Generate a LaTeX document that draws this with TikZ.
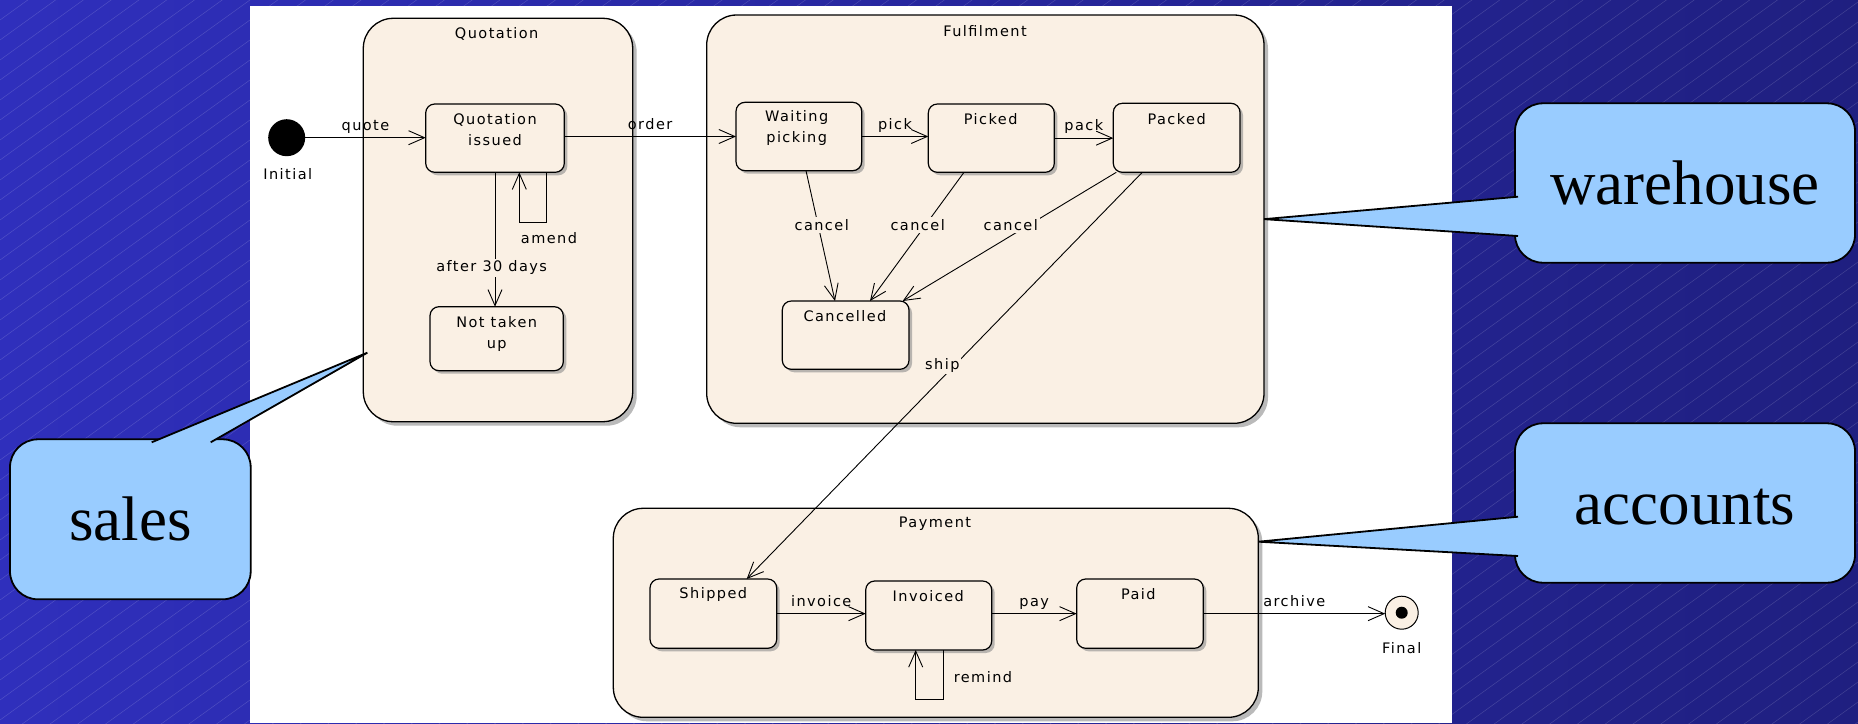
\documentclass[tikz,border=0pt]{standalone}
\usepackage{fontspec}
\setmainfont{Liberation Serif}
\newfontfamily\umlfont[LetterSpace=10]{DejaVu Sans}
\usetikzlibrary{arrows.meta,shadows,calc}

\definecolor{bgA}{RGB}{47,47,188}
\definecolor{bgB}{RGB}{31,31,128}
\definecolor{beige}{RGB}{250,240,228}
\definecolor{callblue}{RGB}{153,204,255}

\tikzset{
  umltext/.style={font=\umlfont\fontsize{14.5}{21}\selectfont, inner sep=1pt, align=center},
  lblabove/.style={umltext, anchor=base, yshift=7.5pt},
  lblfill/.style={umltext, fill=beige, inner sep=2pt},
  comp/.style={draw=black, line width=1.3pt, fill=beige, rounded corners=30pt, inner sep=0pt, outer sep=0pt,
    drop shadow={shadow xshift=4pt, shadow yshift=-4pt, fill=black!45, opacity=0.6}},
  st/.style={draw=black, line width=1.2pt, fill=beige, rounded corners=9pt, inner sep=0pt, outer sep=0pt,
    drop shadow={shadow xshift=3pt, shadow yshift=-3pt, fill=black!45, opacity=0.6}},
  tr/.style={draw=black, line width=0.9pt, -{Straight Barb[length=16pt, width=14pt, line width=0.9pt]}},
  callbox/.style={draw=black, line width=1.8pt, fill=callblue, rounded corners=28pt, inner sep=0pt, outer sep=0pt,
    font=\fontsize{63}{70}\selectfont, text height=43pt, text depth=0pt},
  calltip/.style={fill=callblue, draw=black, line width=1.8pt, line join=miter},
  bgline/.style={white, opacity=0.16, line width=0.5pt}
}

\begin{document}
\begin{tikzpicture}[x=1pt,y=-1pt]
\useasboundingbox (0,0) rectangle (1858,723);
% background
\shade[left color=bgA, right color=bgB] (0,0) rectangle (1858,723);
\begin{scope}
  \clip (0,0) rectangle (1858,723);
  \foreach \c in {0,20,...,2080} \draw[bgline] (0,\c) -- (1858,\c-1338);
\end{scope}
\fill[white] (250,6) rectangle (1452,723);

% composite states
\node[comp, minimum width=269.4pt, minimum height=403.4pt] (quot) at (498,220) {};
\node[comp, minimum width=557.3pt, minimum height=408.3pt] (fulf) at (985.35,219.15) {};
\node[comp, minimum width=645pt, minimum height=209pt] (pay) at (935.8,612.8) {};
\node[umltext] (quott) at (496.7,34.3) {Quotation};
\node[umltext] (fulft) at (985,31) {Fulfilment};
\node[umltext] (payt) at (935,523.3) {Payment};

% states
\node[st, minimum width=138.6pt, minimum height=68.3pt] (qi) at (495,138.15) {};
\node[umltext] (qit) at (495,129.5) {Quotation\\issued};
\node[st, minimum width=133.3pt, minimum height=64pt] (ntu) at (496.65,338.7) {};
\node[umltext] (ntut) at (496.7,333.5) {Not taken\\up};
\node[st, minimum width=125.7pt, minimum height=68.4pt] (wp) at (798.85,136.5) {};
\node[umltext] (wpt) at (796.7,128.2) {Waiting\\picking};
\node[st, minimum width=126pt, minimum height=68.3pt] (picked) at (991.3,138.15) {};
\node[umltext] (pickedt) at (990.7,118.7) {Picked};
\node[st, minimum width=126.7pt, minimum height=69pt] (packed) at (1176.65,137.8) {};
\node[umltext] (packedt) at (1176.7,118.7) {Packed};
\node[st, minimum width=126.7pt, minimum height=68.3pt] (cancelled) at (845.65,335.15) {};
\node[umltext] (cancelledt) at (845,315.7) {Cancelled};
\node[st, minimum width=126.7pt, minimum height=69.3pt] (shipped) at (713.35,613.65) {};
\node[umltext] (shippedt) at (713.3,594.3) {Shipped};
\node[st, minimum width=126pt, minimum height=69pt] (invoiced) at (928.7,615.5) {};
\node[umltext] (invoicedt) at (928.3,595.7) {Invoiced};
\node[st, minimum width=126.6pt, minimum height=69.3pt] (paid) at (1140,613.65) {};
\node[umltext] (paidt) at (1138.3,594.3) {Paid};

% pseudo states
\node[circle, fill=black, minimum size=37pt, inner sep=0pt, outer sep=0pt] (init) at (286.7,137.7) {};
\node[umltext] (initt) at (287.7,174) {Initial};
\node[circle, draw=black, line width=1pt, fill=beige, minimum size=33pt, inner sep=0pt, outer sep=0pt] (final) at (1401.7,612.7) {};
\node[circle, fill=black, minimum size=12pt, inner sep=0pt] (finaldot) at (final.center) {};
\node[umltext] (finalt) at (1401.7,648.3) {Final};

% transitions
\draw[tr] (init.east) -- node[lblabove] (lquote) {quote} (qi.west |- init.east);
\draw[tr] (qi.east |- wp.west) -- node[lblabove] (lorder) {order} (wp.west);
\draw[tr] (wp.east) -- node[lblabove] (lpick) {pick} (picked.west |- wp.east);
\draw[tr] (picked.east) -- node[lblabove] (lpack) {pack} (packed.west |- picked.east);
\draw[tr] (qi.south) -- node[lblfill, pos=0.71, xshift=-3.3pt] (lafter) {after 30 days} (qi.south |- ntu.north);
\draw[tr] ([xshift=51.7pt]qi.south) -- ++(0,50)
   node[umltext, anchor=north, xshift=2.3pt, yshift=-9pt] (lamend) {amend}
   -- ++(-27.4,0) -- ([xshift=24.3pt]qi.south);
\draw[tr] ([xshift=7.15pt]wp.south) -- node[lblfill, pos=0.417, xshift=3.6pt] (lc1) {cancel} ([xshift=-10.65pt]cancelled.north);
\draw[tr] ([xshift=-27.3pt]picked.south) -- node[lblfill, pos=0.41, xshift=-7.8pt] (lc2) {cancel} ([xshift=24.35pt]cancelled.north);
\draw[tr] ([xshift=3pt]packed.south west) -- node[lblfill, pos=0.41, xshift=-18pt] (lc3) {cancel} ([xshift=-6.3pt]cancelled.north east);
\draw[tr] ([xshift=-34.35pt]packed.south) -- node[lblfill, pos=0.474, xshift=-12.5pt] (lship) {ship} ([xshift=33.35pt]shipped.north);
\draw[tr] (shipped.east) -- node[lblabove] (linvoice) {invoice} (invoiced.west |- shipped.east);
\draw[tr] (invoiced.east |- paid.west) -- node[lblabove] (lpay) {pay} (paid.west);
\draw[tr] ([xshift=14.6pt]invoiced.south) -- node[umltext, pos=0.55, anchor=west, xshift=9pt] (lremind) {remind} ++(0,49.3)
   -- ++(-27.6,0) -- ([xshift=-13pt]invoiced.south);
\draw[tr] (paid.east) -- node[lblabove] (larchive) {archive} (final.west |- paid.east);

% callouts
\node[callbox, minimum width=340pt, minimum height=159.4pt] (wh) at (1685,183) {warehouse};
\filldraw[calltip] ($(wh.west)+(3,13.7)$) -- (fulf.east) -- ($(wh.west)+(3,53)$);
\node[callbox, minimum width=340pt, minimum height=159.4pt] (acc) at (1685,503) {accounts};
\filldraw[calltip] ($(acc.west)+(3,13.7)$) -- ($(pay.north east)+(0,33.4)$) -- ($(acc.west)+(3,53)$);
\node[callbox, minimum width=240.7pt, minimum height=160pt] (sales) at (130.35,519.3) {sales};
\filldraw[calltip] ($(sales.north)+(21.35,3)$) -- ($(quot.west)+(4,132.7)$) -- ($(sales.north)+(80.35,3)$);
\end{tikzpicture}
\end{document}
